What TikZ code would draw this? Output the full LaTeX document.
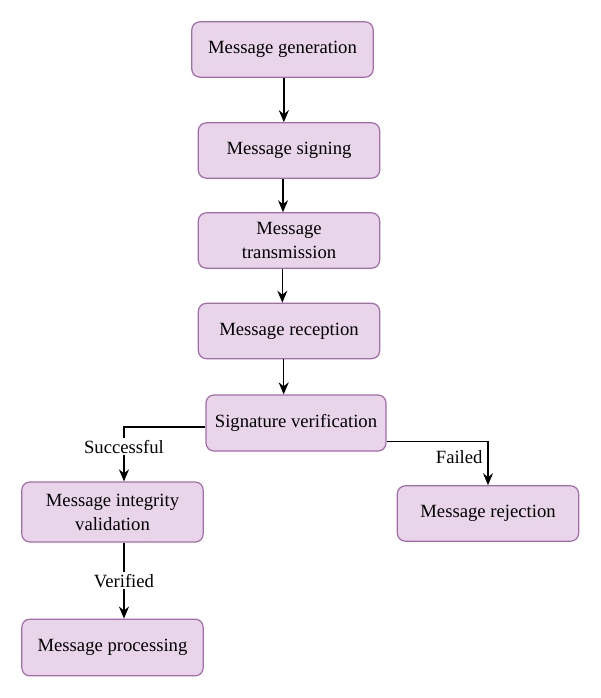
\documentclass[tikz,border=0pt]{standalone}
\usepackage{fontspec}
\setmainfont{Liberation Serif}
\usetikzlibrary{arrows.meta}
\definecolor{boxfill}{HTML}{E9D5E9}
\definecolor{boxdraw}{HTML}{A56CAB}
\begin{document}
\begin{tikzpicture}[x=0.75pt,y=-0.75pt,
  stepbox/.style={draw=boxdraw,fill=boxfill,line width=0.9pt,rounded corners=6pt,
    minimum width=136pt,minimum height=41.5pt,align=center,inner sep=2pt,
    font=\fontsize{14pt}{18pt}\selectfont},
  conn/.style={line width=1.2pt,-{Stealth[length=9pt,width=7.5pt]}},
  lbl/.style={fill=white,inner sep=1.5pt,font=\fontsize{14pt}{18pt}\selectfont}]
\useasboundingbox (0,0) rectangle (600,698);
\node[stepbox] (gen) at (282.5,49.5) {Message generation};
\node[stepbox] (sign) at (289,150.5) {Message signing};
\node[stepbox] (trans) at (289,240.5) {Message\\transmission};
\node[stepbox] (recep) at (289,331) {Message reception};
\node[stepbox,minimum width=135pt,minimum height=42pt] (sigver) at (296,423) {Signature verification};
\node[stepbox,minimum height=45pt] (integ) at (112.5,512) {Message integrity\\validation};
\node[stepbox] (reject) at (488,513.5) {Message rejection};
\node[stepbox,minimum height=42.5pt] (proc) at (112.5,647.5) {Message processing};
\draw[conn] ([xshift=1pt]gen.south) -- ([xshift=1pt]gen.south |- sign.north);
\draw[conn] ([xshift=-4.5pt]sign.south) -- ([xshift=-4.5pt]sign.south |- trans.north);
\draw[conn] ([xshift=-5pt]trans.south) -- ([xshift=-5pt]trans.south |- recep.north);
\draw[conn] ([xshift=-4pt]recep.south) -- ([xshift=-4pt]recep.south |- sigver.north);
\draw[conn] ([yshift=-3pt]sigver.west) -| node[lbl,pos=0.68] (succ) {Successful} ([xshift=8.6pt]integ.north);
\draw[conn] ([yshift=-14pt]sigver.east) -| node[lbl,pos=0.68,anchor=east,fill=none,xshift=-2pt] (fail) {Failed} (reject.north);
\draw[conn] ([xshift=8.6pt]integ.south) -- node[lbl] (ver) {Verified} ([xshift=8.6pt]proc.north);
\end{tikzpicture}
\end{document}
